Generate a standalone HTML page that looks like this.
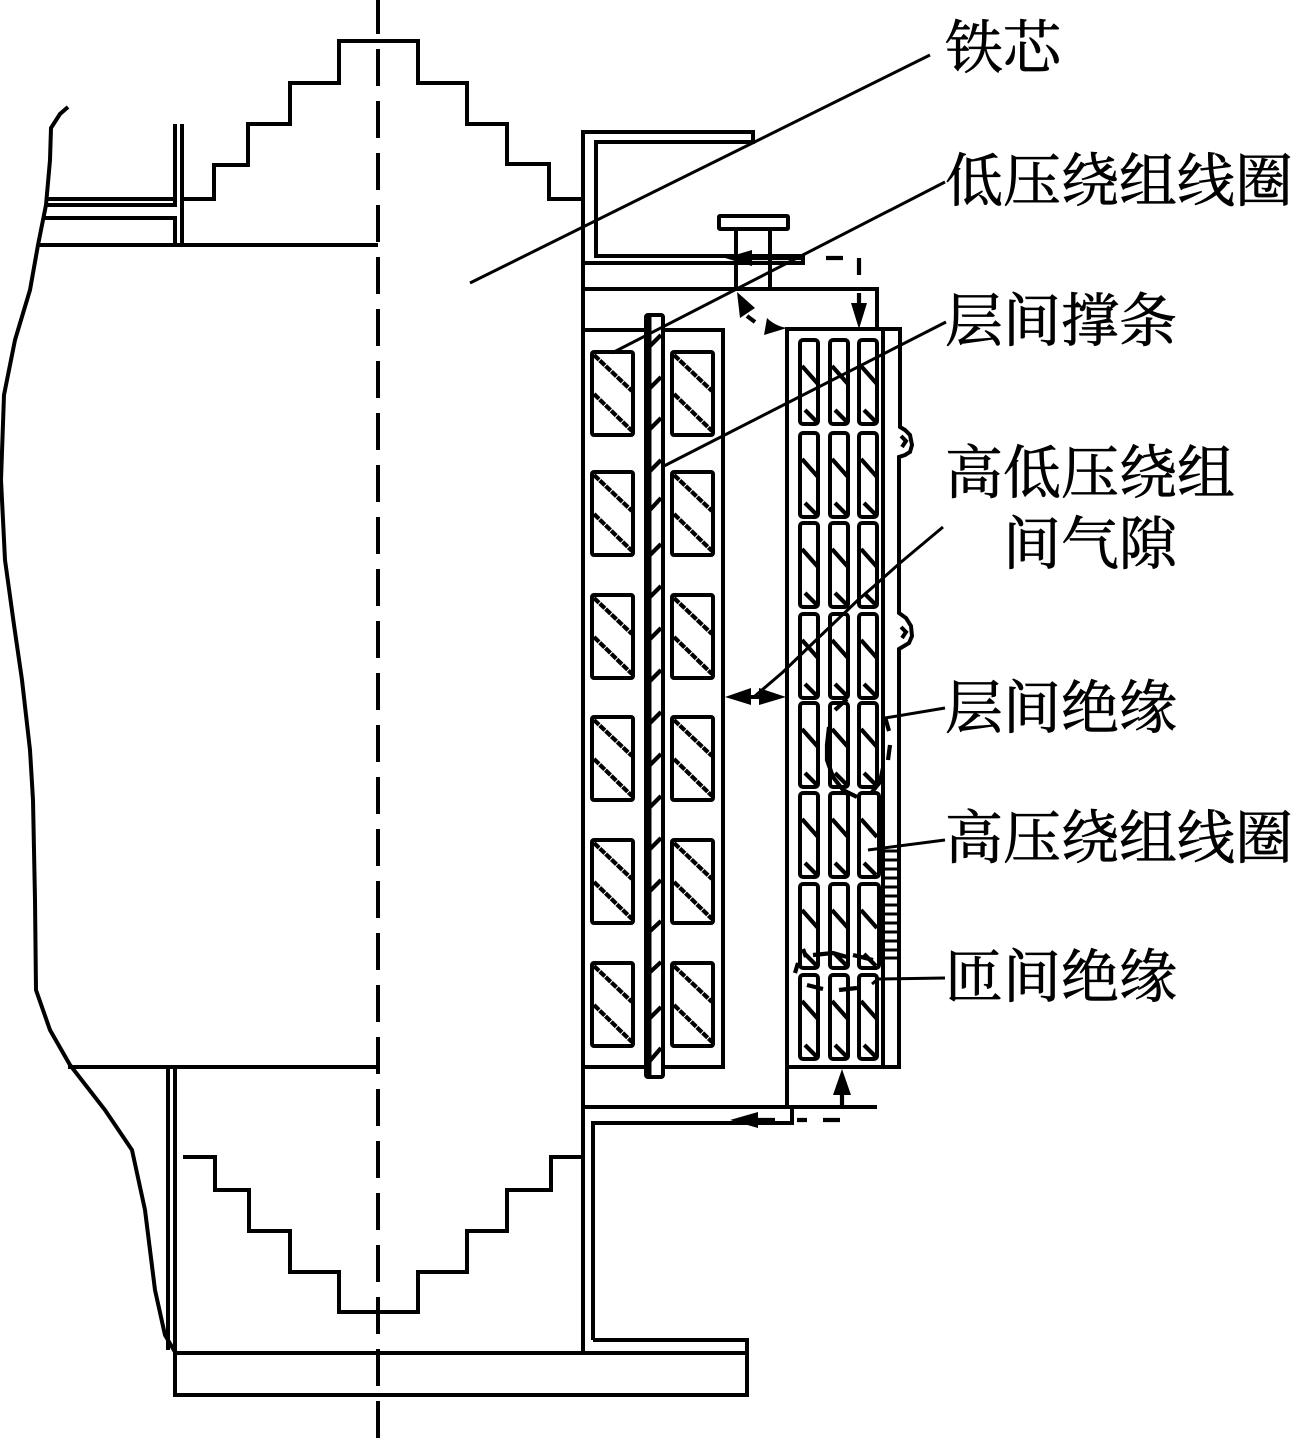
<!DOCTYPE html>
<html><head><meta charset="utf-8"><style>
html,body{margin:0;padding:0;background:#fff}
svg{display:block}
text{font-family:"Liberation Serif","Noto Serif CJK SC",serif;font-size:58px;fill:#000;stroke:#000;stroke-width:.7}
.k{fill:none;stroke:#000;stroke-width:4;stroke-linejoin:miter}
.t{fill:none;stroke:#000;stroke-width:3}
.d{fill:none;stroke:#000;stroke-width:4.2}
.a{fill:#000;stroke:none}
</style></head><body>
<svg width="1295" height="1441" viewBox="0 0 1295 1441" xmlns="http://www.w3.org/2000/svg">
<defs>
<g id="lc"><rect x="0" y="0" width="41" height="83" rx="2" class="k"/>
<path class="d" stroke-dasharray="7 1" d="M2,3L40,39M2,42L40,79"/></g>
<g id="a"><rect x="0" y="0" width="18" height="84" rx="3" class="k"/>
<path class="d" d="M2,26L18,44M5,70L17,82"/></g>
<g id="b"><rect x="0" y="0" width="20" height="84" rx="3" class="k"/>
<path class="d" d="M2,26L18,44M5,70L17,82"/></g>
</defs>

<!-- centre line -->
<line x1="378" y1="0" x2="378" y2="1441" stroke="#000" stroke-width="4" stroke-dasharray="37 15" stroke-dashoffset="3"/>

<!-- left wavy break -->
<path class="k" d="M68,107L60,114L51,128L50,160L46,205L38,245L30,290L15,340L4,395L1,480L5,560L14,625L22,680L30,750L33,800L35,900L36,990L50,1030L70,1065L105,1110L132,1150L145,1210L155,1290L165,1335L175,1352"/>

<!-- top left frame -->
<path class="k" d="M47,199H175M47,205H175V124M45,218H175V245M182,124V245M38,245H378"/>
<path class="k" d="M182,199H214V165H248V124H290V83H339V41H418V83H467V124H507V164H549V199H583"/>

<!-- bottom core -->
<path class="k" d="M68,1067H378M168,1067V1350M175,1067V1352"/>
<path class="k" d="M183,1157H215V1190H249V1231H290V1272H339V1312H418V1272H467V1231H507V1190H551V1157H583"/>
<rect x="175" y="1353" width="572" height="42" class="k"/>

<!-- main vertical + channels -->
<path class="k" d="M583,1353V132H753V142H596V256H803V263H583"/>
<path class="k" d="M583,289H877V329"/>
<path class="k" d="M736,230V289M770,230V289"/>
<rect x="719" y="216" width="69" height="13" rx="1" class="k"/>
<path class="k" d="M593,1340V1123H792V1107M583,1107H877M593,1340H747V1353"/>

<!-- left winding -->
<rect x="583" y="330" width="140" height="737" class="k"/>
<rect x="646" y="315" width="17" height="762" rx="2" fill="#fff" stroke="#000" stroke-width="4"/>
<line x1="648" y1="317" x2="648" y2="1075" stroke="#000" stroke-width="7"/>
<path class="d" d="M648,348L661,335M648,390L661,377M648,431L661,418M648,473L661,460M648,512L661,498M648,557L661,544M648,599L661,586M648,641L661,628M648,683L661,670M648,725L661,712M648,767L661,754M648,809L661,796M648,851L661,838M648,893L661,880M648,933L661,921M648,974L661,962M648,1020L661,1007M648,1063L661,1048"/>
<use href="#lc" x="592" y="352"/><use href="#lc" x="672" y="352"/>
<use href="#lc" x="592" y="472"/><use href="#lc" x="672" y="472"/>
<use href="#lc" x="592" y="595"/><use href="#lc" x="672" y="595"/>
<use href="#lc" x="592" y="717"/><use href="#lc" x="672" y="717"/>
<use href="#lc" x="592" y="840"/><use href="#lc" x="672" y="840"/>
<use href="#lc" x="592" y="963"/><use href="#lc" x="672" y="963"/>

<!-- right winding -->
<path class="k" d="M787,1107V329H900V427L905,430L910,435L912,445L910,452L905,455L899,457V613L906,618L911,626L912,636L909,643L899,649V1067H787"/>
<path class="k" d="M883,329V1067"/>
<path class="k" d="M901,436L906,441L902,447M901,627L906,632L902,638"/>
<path class="t" d="M885,851H899M885,860H899M885,869H899M885,878H899M885,887H899M885,896H899M885,905H899M885,914H899M885,923H899M885,932H899M885,941H899M885,950H899M885,958H899"/>

<use href="#a" x="800" y="340"/><use href="#a" x="830" y="340"/><use href="#a" x="859" y="340"/>
<use href="#a" x="800" y="433"/><use href="#a" x="830" y="433"/><use href="#a" x="859" y="433"/>
<use href="#a" x="800" y="523"/><use href="#a" x="830" y="523"/><use href="#a" x="859" y="523"/>
<use href="#a" x="800" y="614"/><use href="#a" x="830" y="614"/><use href="#a" x="859" y="614"/>
<use href="#a" x="800" y="703"/><use href="#a" x="830" y="703"/><use href="#a" x="859" y="703"/>
<use href="#a" x="800" y="793"/><use href="#a" x="830" y="793"/><use href="#b" x="859" y="793"/>
<use href="#a" x="800" y="884"/><use href="#a" x="830" y="884"/><use href="#b" x="859" y="884"/>
<use href="#a" x="800" y="975"/><use href="#a" x="830" y="975"/><use href="#a" x="859" y="975"/>

<!-- leaders -->
<path class="t" d="M470,283L930,55"/>
<path class="t" d="M612,353L945,182"/>
<path class="t" d="M664,466L946,322"/>
<path class="t" d="M755,696L783,672L813,643L858,600L873,587L900,563L943,527"/>
<path class="t" d="M885,718L945,708"/>
<path class="t" d="M868,850L945,840"/>
<path class="t" d="M872,984L878,979L945,978"/>

<!-- dashed loops -->
<path class="d" d="M835,710L847,699"/>
<path class="d" d="M829,727L827,745L827,760L833,777L843,790L857,797"/>
<path class="d" d="M885,717L889,731M890,745L888,760M883,768L880,782L872,792"/>
<path class="d" d="M795,973L798,963M803,949L806,957M813,955L833,953L847,957M853,955L873,960"/>
<path class="d" d="M807,985L823,989M839,990L857,988"/>

<!-- arrows -->
<path class="a" d="M725,258L752,250V266Z"/>
<path class="d" d="M750,258H805M826,258H843M859,258V275M859,293V310"/>
<path class="a" d="M859,329L851,303H867Z"/>
<path class="a" d="M737,292L740,318L755,308Z"/>
<path class="d" d="M747,316L755,322"/>
<path class="a" d="M787,328Q775,326 767,318L764,335Z"/>
<path class="a" d="M725,697L751,688V705Z"/>
<path class="a" d="M786,697L759,688V705Z"/>
<line x1="750" y1="697" x2="760" y2="697" stroke="#000" stroke-width="4"/>
<path class="a" d="M730,1120L758,1112V1128Z"/>
<path class="d" d="M755,1120H775M797,1120H807M823,1120H840"/>
<path class="a" d="M842,1069L833,1095H851Z"/>
<path class="d" d="M842,1093V1107"/>

<!-- labels -->
<text x="945" y="68">铁芯</text>
<text x="945" y="201">低压绕组线圈</text>
<text x="945" y="341">层间撑条</text>
<text x="945" y="493">高低压绕组</text>
<text x="1003" y="564">间气隙</text>
<text x="945" y="728">层间绝缘</text>
<text x="945" y="858">高压绕组线圈</text>
<text x="945" y="997">匝间绝缘</text>
</svg>
</body></html>
